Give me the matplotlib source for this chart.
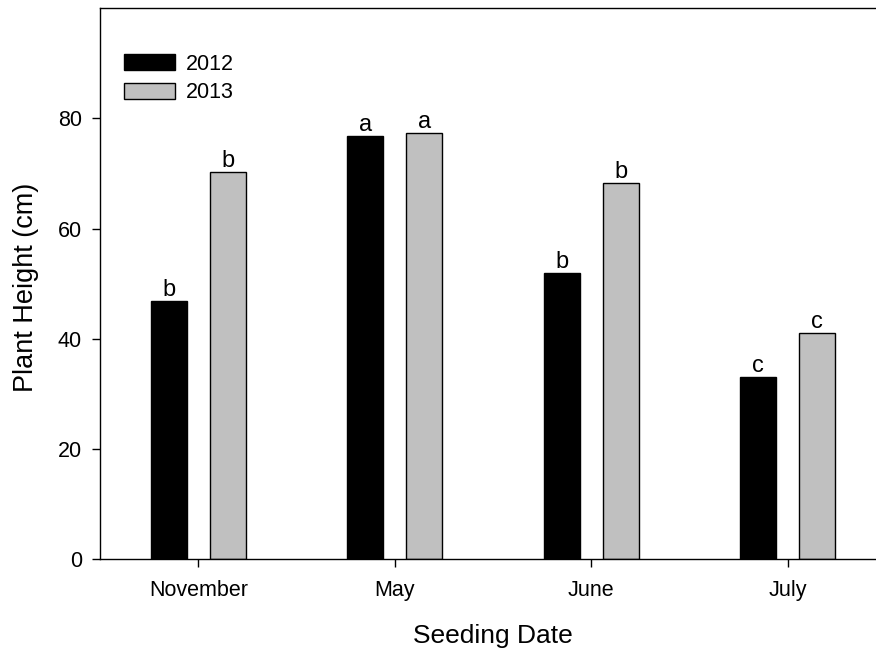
import numpy as np
import matplotlib.pyplot as plt

plt.rcParams['font.family'] = ['Liberation Sans', 'DejaVu Sans']

# Data
dates = ['November', 'May', 'June', 'July']
years = ['2012', '2013']
height_2012 = [46.8, 76.8, 52.0, 33.1]
height_2013 = [70.2, 77.3, 68.3, 41.0]
letters_2012 = ['b', 'a', 'b', 'c']
letters_2013 = ['b', 'a', 'b', 'c']

# Figure and axes
fig = plt.figure(figsize=(8.76, 6.56), dpi=100)
ax = fig.add_axes([0.1142, 0.1474, 0.8973, 0.8404])

x = np.arange(len(dates))
width = 0.183
offset = 0.15

bars1 = ax.bar(x - offset, height_2012, width, color='black', edgecolor='black',
               linewidth=1.0, label=years[0])
bars2 = ax.bar(x + offset, height_2013, width, color='#c0c0c0', edgecolor='black',
               linewidth=1.0, label=years[1])

# Significance letters
for bars, letters in [(bars1, letters_2012), (bars2, letters_2013)]:
    for b, lab in zip(bars, letters):
        ax.text(b.get_x() + b.get_width() / 2, b.get_height(), lab,
                ha='center', va='bottom', fontsize=17)

ax.set_xlim(-0.5, 3.5)
ax.set_ylim(0, 100)
ax.set_xticks(x)
ax.set_xticklabels(dates)
ax.set_yticks([0, 20, 40, 60, 80])

ax.tick_params(axis='both', direction='out', length=6, width=1.0, labelsize=15.5)
ax.tick_params(axis='y', pad=7)
ax.tick_params(axis='x', pad=9)

for s in ['left', 'bottom', 'top']:
    ax.spines[s].set_linewidth(1.0)
ax.spines['right'].set_visible(False)

ax.set_xlabel('Seeding Date', fontsize=19)
ax.set_ylabel('Plant Height (cm)', fontsize=19.5)
ax.xaxis.set_label_coords(0.5, -0.117)
ax.yaxis.set_label_coords(-0.078, 0.493)

ax.legend(loc='upper left', bbox_to_anchor=(0.031, 0.917), frameon=False,
          fontsize=15.5, handlelength=2.37, handleheight=0.79,
          handletextpad=0.5, labelspacing=0.35, borderpad=0, borderaxespad=0)

fig.savefig('out.png', dpi=100)
